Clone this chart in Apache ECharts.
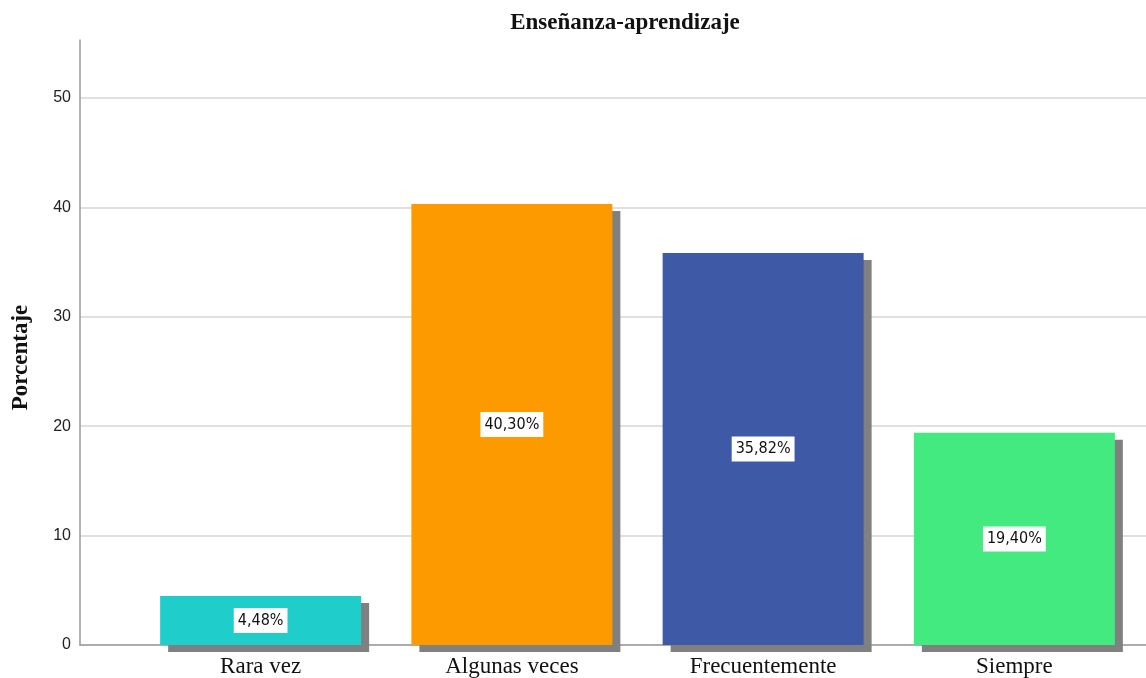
<!DOCTYPE html>
<html>
<head>
<meta charset="utf-8">
<script src="https://cdn.jsdelivr.net/npm/echarts@6/dist/echarts.min.js"></script>
<style>
  html, body { margin: 0; padding: 0; background: #fff; }
  #chart { width: 1146px; height: 678px; }
</style>
</head>
<body>
<div id="chart"></div>
<script>
  // datos
  const categorias = ['Rara vez', 'Algunas veces', 'Frecuentemente', 'Siempre'];
  const porcentajes = [4.48, 40.30, 35.82, 19.40];
  const colores = ['#1fcecb', '#fd9a00', '#3e5aa7', '#42ea80'];
  const ejeMax = 55.3;
  const ejeIntervalo = 10;

  const chart = echarts.init(document.getElementById('chart'));

  const gris = '#d6d6d6';
  chart.setOption({
    animation: false,
    title: {
      text: 'Enseñanza-aprendizaje',
      left: 625,
      textAlign: 'center',
      top: 12,
      padding: 0,
      textStyle: {
        fontFamily: 'Liberation Serif',
        fontWeight: 'bold',
        fontSize: 23,
        color: '#111'
      }
    },
    grid: [
      { left: 80, right: 0, top: 40, bottom: 33 },
      { left: 135, right: 6, top: 40, bottom: 33 }
    ],
    xAxis: [
      {
        gridIndex: 0, type: 'value', min: 0, max: 1,
        axisLine: { show: true, lineStyle: { color: '#9a9a9a', width: 1.5 } },
        axisTick: { show: false }, axisLabel: { show: false }, splitLine: { show: false }
      },
      {
        gridIndex: 1, type: 'category', data: categorias,
        axisLine: { show: false }, axisTick: { show: false },
        axisLabel: {
          margin: 10,
          fontFamily: 'Liberation Serif',
          fontSize: 23,
          color: '#111'
        }
      }
    ],
    yAxis: [
      {
        gridIndex: 0, type: 'value', min: 0, max: ejeMax, interval: ejeIntervalo,
        name: 'Porcentaje',
        nameLocation: 'middle',
        nameGap: 47,
        nameTextStyle: {
          fontFamily: 'Liberation Serif',
          fontWeight: 'bold',
          fontSize: 23,
          color: '#111',
          padding: [0, 30, 0, 0]
        },
        axisLine: { show: true, lineStyle: { color: '#9a9a9a', width: 1.5 } },
        axisTick: { show: false },
        axisLabel: {
          margin: 9,
          showMaxLabel: false,
          fontFamily: 'Liberation Sans',
          fontSize: 16,
          color: '#222'
        },
        splitLine: {
          show: true,
          // la ultima linea (max del eje) no se dibuja
          lineStyle: { color: [gris, gris, gris, gris, gris, gris, 'rgba(0,0,0,0)'], width: 1.5 }
        }
      },
      {
        gridIndex: 1, type: 'value', min: 0, max: ejeMax, show: false
      }
    ],
    series: [
      {
        type: 'bar',
        xAxisIndex: 1,
        yAxisIndex: 1,
        barWidth: '80%',
        data: porcentajes.map((v, i) => ({ value: v, itemStyle: { color: colores[i] } })),
        itemStyle: {
          shadowColor: '#808080',
          shadowOffsetX: 8,
          shadowOffsetY: 7,
          shadowBlur: 0
        },
        label: {
          show: true,
          position: 'inside',
          formatter: p => p.value.toFixed(2).replace('.', ',') + '%',
          backgroundColor: '#fff',
          padding: [5, 4, 4, 4],
          color: '#111',
          fontFamily: "'DejaVu Sans Condensed', 'Liberation Sans'",
          fontSize: 16
        }
      }
    ]
  });
</script>
</body>
</html>
